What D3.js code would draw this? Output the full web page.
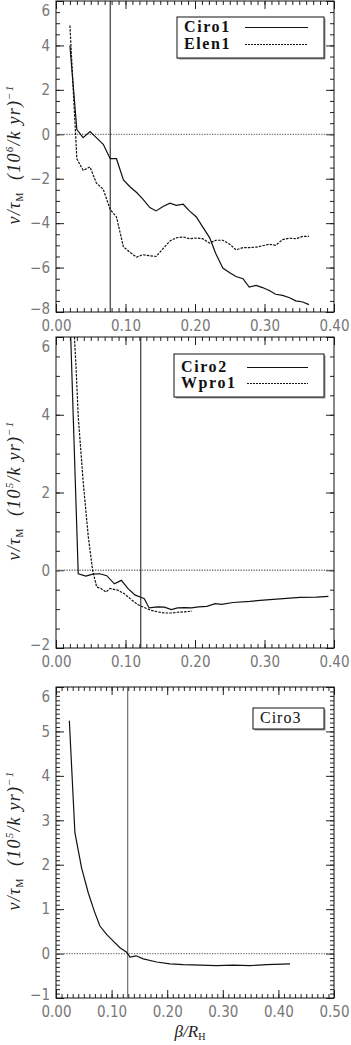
<!DOCTYPE html>
<html>
<head>
<meta charset="utf-8">
<script src="https://cdn.jsdelivr.net/npm/d3@7"></script>
<style>
  body { margin: 0; background: #fff; }
  .tick text { font-family: "Liberation Sans Narrow", "DejaVu Sans Condensed", "Liberation Sans", sans-serif; font-stretch: condensed; font-size: 15px; fill: #777; }
  .tick line { stroke: #222; }
</style>
</head>
<body>
<div id="chart"></div>
<script>
// panel 1: Ciro1 / Elen1
const xs1 = [0.020, 0.030, 0.039, 0.049, 0.058, 0.068, 0.078, 0.087, 0.097, 0.106,
             0.116, 0.125, 0.135, 0.144, 0.154, 0.164, 0.173, 0.183, 0.192, 0.202,
             0.211, 0.221, 0.230, 0.240, 0.250, 0.259, 0.269, 0.278, 0.288, 0.297,
             0.307, 0.316, 0.326, 0.336, 0.345, 0.355, 0.364];
const ciro1 = [4.0, 0.21, -0.15, 0.12, -0.15, -0.45, -1.1, -1.1, -2.05, -2.35,
               -2.62, -2.92, -3.3, -3.45, -3.25, -3.1, -3.2, -3.15, -3.45, -3.72,
               -4.17, -4.65, -5.38, -6.02, -6.23, -6.4, -6.5, -6.88, -6.8, -6.9,
               -7.03, -7.2, -7.25, -7.36, -7.5, -7.55, -7.67];
const elen1 = [4.9, -1.1, -1.62, -1.47, -2.19, -2.48, -3.39, -3.72, -5.07, -5.3,
               -5.53, -5.42, -5.47, -5.5, -5.15, -4.8, -4.66, -4.62, -4.7, -4.67,
               -4.7, -4.9, -4.77, -4.77, -4.95, -5.2, -5.1, -5.1, -5.08, -5.02,
               -4.95, -5.0, -4.74, -4.68, -4.7, -4.6, -4.6];

// panel 2: Ciro2 / Wpro1
const xsCiro2 = [0.021, 0.032, 0.043, 0.053, 0.063, 0.073, 0.084, 0.094, 0.104, 0.114,
                 0.123, 0.127, 0.134, 0.146, 0.156, 0.166, 0.175, 0.185, 0.195, 0.205,
                 0.217, 0.229, 0.238, 0.255, 0.279, 0.303, 0.327, 0.351, 0.375, 0.392];
const ciro2 = [6.1, -0.09, -0.15, -0.1, -0.09, -0.14, -0.35, -0.26, -0.48, -0.64,
               -0.70, -0.73, -0.97, -0.94, -0.95, -1.01, -0.97, -0.96, -0.97, -0.94,
               -0.93, -0.86, -0.88, -0.83, -0.80, -0.76, -0.73, -0.70, -0.69, -0.67];
const xsWpro1 = [0.0265, 0.0288, 0.032, 0.0393, 0.0465, 0.0527, 0.0585, 0.0647, 0.0719, 0.0777,
                 0.0887, 0.098, 0.108, 0.1175, 0.127, 0.1367, 0.146, 0.156, 0.166, 0.175,
                 0.185, 0.1957];
const wpro1 = [6.0, 5.23, 3.95, 2.23, 0.86, 0.0, -0.43, -0.47, -0.56, -0.47,
               -0.51, -0.6, -0.75, -0.88, -0.96, -1.03, -1.07, -1.1, -1.1, -1.08,
               -1.07, -1.05];

// panel 3: Ciro3
const xs3 = [0.024, 0.034, 0.046, 0.058, 0.069, 0.079, 0.091, 0.103, 0.115, 0.127,
             0.133, 0.144, 0.157, 0.181, 0.205, 0.229, 0.259, 0.289, 0.319, 0.349,
             0.379, 0.421];
const ciro3 = [5.24, 2.72, 1.93, 1.37, 0.95, 0.62, 0.43, 0.28, 0.13, 0.03,
               -0.08, -0.05, -0.12, -0.19, -0.23, -0.25, -0.26, -0.27, -0.26, -0.27,
               -0.25, -0.23];

// tick labels
const xTicks1 = [0, 0.1, 0.2, 0.3, 0.4];
const xTicks3 = [0, 0.1, 0.2, 0.3, 0.4, 0.5];
const yTicks1 = [-8, -6, -4, -2, 0, 2, 4, 6];
const yTicks2 = [-2, 0, 2, 4, 6];
const yTicks3 = [-1, 0, 1, 2, 3, 4, 5, 6];

const W = 351, H = 1045;
const left = 56, right = 334;

const svg = d3.select("#chart").append("svg")
    .attr("width", W)
    .attr("height", H);

const fmtX = d3.format(".2f");

function drawPanel(cfg) {
    let width = right - left,
        height = cfg.bottom - cfg.top;

    let x = d3.scaleLinear().domain(cfg.xDomain).range([0, width]);
    let y = d3.scaleLinear().domain(cfg.yDomain).range([height, 0]);

    let g = svg.append("g")
        .attr("transform", "translate(" + left + "," + cfg.top + ")");

    let clipId = "clip" + cfg.id;
    g.append("clipPath").attr("id", clipId)
        .append("rect").attr("width", width).attr("height", height);

    let xMinor = d3.range(cfg.xDomain[0], cfg.xDomain[1] + 1e-9, 0.01);
    let yMinor = d3.range(cfg.yDomain[0], cfg.yDomain[1] + 1e-9, cfg.yMinorStep);

    // minor ticks, all four sides
    g.append("g").attr("transform", "translate(0," + height + ")")
        .call(d3.axisBottom(x).tickValues(xMinor).tickSize(-4).tickFormat(""));
    g.append("g")
        .call(d3.axisTop(x).tickValues(xMinor).tickSize(-4).tickFormat(""));
    g.append("g")
        .call(d3.axisLeft(y).tickValues(yMinor).tickSize(-4).tickFormat(""));
    g.append("g").attr("transform", "translate(" + width + ",0)")
        .call(d3.axisRight(y).tickValues(yMinor).tickSize(-4).tickFormat(""));

    // major ticks with labels
    g.append("g").attr("transform", "translate(0," + height + ")")
        .call(d3.axisBottom(x).tickValues(cfg.xTicks).tickSize(-8).tickPadding(cfg.xPad).tickFormat(fmtX));
    g.append("g")
        .call(d3.axisTop(x).tickValues(cfg.xTicks).tickSize(-8).tickFormat(""));
    let ya = g.append("g")
        .call(d3.axisLeft(y).tickValues(cfg.yTicks).tickSize(-8).tickPadding(6).tickFormat(d3.format("d")));
    g.append("g").attr("transform", "translate(" + width + ",0)")
        .call(d3.axisRight(y).tickValues(cfg.yTicks).tickSize(-8).tickFormat(""));

    // keep the end labels inside the picture, as the original does
    ya.selectAll(".tick text")
        .attr("dy", (d) => d === cfg.yDomain[1] ? "0.95em" : (d === cfg.yDomain[0] ? "0.1em" : "0.32em"));

    g.selectAll(".domain").remove();

    // frame
    g.append("rect")
        .attr("width", width).attr("height", height)
        .attr("fill", "none").attr("stroke", "#111").attr("stroke-width", 1);

    // zero line
    g.append("line")
        .attr("x1", 0).attr("x2", width)
        .attr("y1", y(0)).attr("y2", y(0))
        .attr("stroke", "#777").attr("stroke-width", 1.3)
        .attr("stroke-dasharray", "1.3,1.3");

    // vertical marker
    g.append("line")
        .attr("x1", x(cfg.vline)).attr("x2", x(cfg.vline))
        .attr("y1", 0).attr("y2", height)
        .attr("stroke", cfg.vColor).attr("stroke-width", 1);

    let line = d3.line()
        .x((d) => x(d[0]))
        .y((d) => y(d[1]));

    let lines = g.append("g").attr("clip-path", "url(#" + clipId + ")");
    cfg.series.forEach((s) => {
        lines.append("path")
            .datum(d3.zip(s.xs, s.ys))
            .attr("d", line)
            .attr("fill", "none")
            .attr("stroke", "#111")
            .attr("stroke-width", 1.2)
            .attr("stroke-dasharray", s.dash ? "2.5,1.2" : null);
    });

    // legend box (coordinates inside the box)
    let lg = cfg.legend;
    let box = svg.append("g").attr("transform", "translate(" + lg.x + "," + lg.y + ")");
    box.append("rect")
        .attr("x", 1.5).attr("y", 1.5)
        .attr("width", lg.w).attr("height", lg.h)
        .attr("fill", "#999");
    box.append("rect")
        .attr("width", lg.w).attr("height", lg.h)
        .attr("fill", "#fff").attr("stroke", "#111").attr("stroke-width", 1);
    cfg.series.forEach((s, i) => {
        box.append("text")
            .attr("x", lg.tx).attr("y", lg.ty + i * lg.dy)
            .attr("font-family", "Liberation Serif, serif")
            .attr("font-size", 16)
            .attr("font-weight", lg.bold ? "bold" : "normal")
            .attr("letter-spacing", lg.ls)
            .attr("fill", "#111")
            .text(s.name);
        if (lg.lines) {
            box.append("line")
                .attr("x1", lg.lx1).attr("x2", lg.lx2)
                .attr("y1", lg.ty - 4.5 + i * lg.dy).attr("y2", lg.ty - 4.5 + i * lg.dy)
                .attr("stroke", "#111").attr("stroke-width", 1)
                .attr("stroke-dasharray", s.dash ? "2,1" : null);
        }
    });

    // y axis title
    let t = svg.append("text")
        .attr("transform", "translate(20," + (cfg.top + height / 2 - 2) + ") rotate(-90)")
        .attr("text-anchor", "middle")
        .attr("font-family", "Liberation Serif, serif")
        .attr("font-style", "italic")
        .attr("font-size", 18)
        .attr("letter-spacing", 1.2)
        .attr("fill", "#222");
    t.append("tspan").text("v/τ");
    t.append("tspan").attr("font-size", 10).attr("font-style", "normal").attr("dy", 3).text("M");
    t.append("tspan").attr("dy", -3).text("\u00a0\u00a0(10");
    t.append("tspan").attr("font-size", 11).attr("dy", -7).text(cfg.exp);
    t.append("tspan").attr("dy", 7).text("/k\u00a0yr)");
    t.append("tspan").attr("font-size", 11).attr("dy", -7).text("−1");
}

drawPanel({
    id: 1, top: 1, bottom: 312,
    xDomain: [0, 0.4], yDomain: [-8, 6], yMinorStep: 0.5,
    xTicks: xTicks1, yTicks: yTicks1, xPad: 8,
    vline: 0.078, vColor: "#111", exp: "6",
    series: [{name: "Ciro1", xs: xs1, ys: ciro1, dash: false},
             {name: "Elen1", xs: xs1, ys: elen1, dash: true}],
    legend: {x: 177, y: 17, w: 147, h: 41, tx: 7, ty: 15, dy: 17, lines: true, lx1: 68, lx2: 131, bold: true, ls: 1.6}
});

drawPanel({
    id: 2, top: 337, bottom: 648,
    xDomain: [0, 0.4], yDomain: [-2, 6], yMinorStep: 0.5,
    xTicks: xTicks1, yTicks: yTicks2, xPad: 8,
    vline: 0.122, vColor: "#111", exp: "5",
    series: [{name: "Ciro2", xs: xsCiro2, ys: ciro2, dash: false},
             {name: "Wpro1", xs: xsWpro1, ys: wpro1, dash: true}],
    legend: {x: 174, y: 354, w: 150, h: 43, tx: 7, ty: 18, dy: 16, lines: true, lx1: 73, lx2: 134, bold: true, ls: 1.6}
});

drawPanel({
    id: 3, top: 687, bottom: 998,
    xDomain: [0, 0.5], yDomain: [-1, 6], yMinorStep: 0.1,
    xTicks: xTicks3, yTicks: yTicks3, xPad: 8,
    vline: 0.129, vColor: "#555", exp: "5",
    series: [{name: "Ciro3", xs: xs3, ys: ciro3, dash: false}],
    legend: {x: 253, y: 708, w: 71, h: 21, tx: 7, ty: 15, dy: 0, lines: false, bold: false, ls: 1}
});

// x axis title, bottom panel only
let xt = svg.append("text")
    .attr("x", 190).attr("y", 1037)
    .attr("text-anchor", "middle")
    .attr("font-family", "Liberation Serif, serif")
    .attr("font-style", "italic")
    .attr("font-size", 17)
    .attr("fill", "#222");
xt.append("tspan").text("β/R");
xt.append("tspan").attr("font-size", 10).attr("font-style", "normal").attr("dy", 3).text("H");
</script>
</body>
</html>
